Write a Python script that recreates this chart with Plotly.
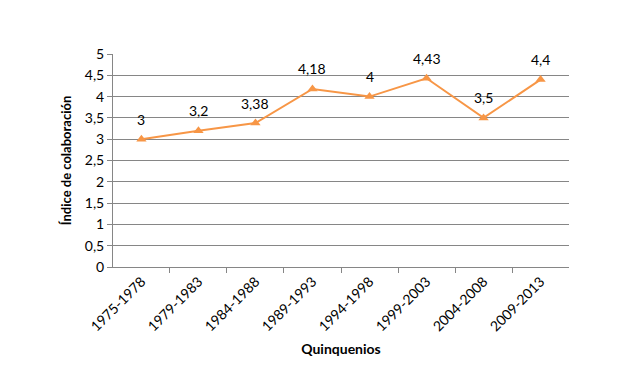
import plotly.graph_objects as go

categories = ["1975-1978", "1979-1983", "1984-1988", "1989-1993",
              "1994-1998", "1999-2003", "2004-2008", "2009-2013"]
values = [3, 3.2, 3.38, 4.18, 4, 4.43, 3.5, 4.4]
value_labels = ["3", "3,2", "3,38", "4,18", "4", "4,43", "3,5", "4,4"]
y_ticks = [0, 0.5, 1, 1.5, 2, 2.5, 3, 3.5, 4, 4.5, 5]
y_tick_labels = ["0", "0,5", "1", "1,5", "2", "2,5", "3", "3,5", "4", "4,5", "5"]

FONT = "Lato, Liberation Sans, sans-serif"
ORANGE = "#F79646"

fig = go.Figure()
fig.add_trace(go.Scatter(
    x=categories, y=values, mode="lines+markers",
    line=dict(color=ORANGE, width=2),
    marker=dict(symbol="triangle-up", size=9, color=ORANGE),
    hoverinfo="skip", showlegend=False,
))

for c, v, t in zip(categories, values, value_labels):
    fig.add_annotation(x=c, y=v, text=t, showarrow=False, yshift=20,
                       font=dict(family=FONT, size=14, color="#000000"))

fig.update_layout(
    width=636, height=380,
    margin=dict(l=105, r=75, t=46, b=121),
    paper_bgcolor="white", plot_bgcolor="white",
    font=dict(family=FONT, size=14, color="#000000"),
)
fig.update_xaxes(
    type="category", tickangle=-45, tickson="boundaries",
    ticks="outside", ticklen=5, tickcolor="#868686",
    showline=True, linecolor="#868686", linewidth=1,
    showgrid=False, tickfont=dict(family=FONT, size=14),
    title=dict(text="<b>Quinquenios</b>", font=dict(family=FONT, size=14), standoff=10),
)
fig.update_yaxes(
    range=[0, 5], tickvals=y_ticks, ticktext=y_tick_labels,
    ticks="outside", ticklen=5, tickcolor="#868686",
    showline=True, linecolor="#868686", linewidth=1,
    showgrid=True, gridcolor="#868686", gridwidth=1, zeroline=False,
    tickfont=dict(family=FONT, size=14),
    title=dict(text="<b>Índice de colaboración</b>", font=dict(family=FONT, size=13), standoff=10),
)

fig.write_html("out.html")
